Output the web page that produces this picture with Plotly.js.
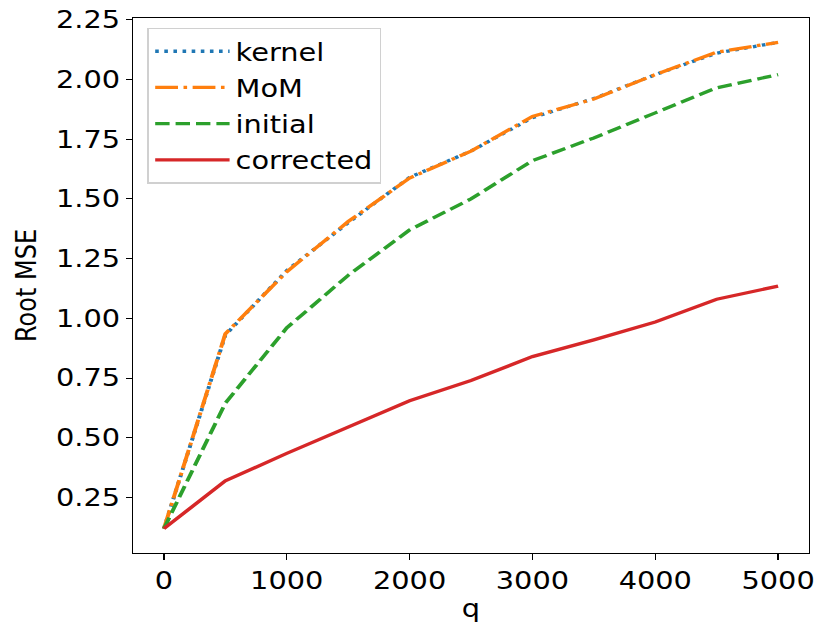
<!DOCTYPE html>
<html>
<head>
<meta charset="utf-8">
<script src="https://cdn.plot.ly/plotly-3.0.1.min.js"></script>
<style>
  body { margin: 0; background: #fff; overflow: hidden; }
  /* the reference figure is stretched sideways, so the plot is drawn narrower and widened */
  #chart { width: 692px; height: 631px; transform: scaleX(1.2); transform-origin: 0 0; }
</style>
</head>
<body>
<div id="chart"></div>
<script>
// q values and root MSE
var q = [0, 500, 1000, 1500, 2000, 2500, 3000, 3500, 4000, 4500, 5000];
var kernel = [0.12, 0.93, 1.20, 1.40, 1.59, 1.70, 1.84, 1.92, 2.02, 2.11, 2.155];
var mom = [0.12, 0.935, 1.195, 1.405, 1.587, 1.70, 1.845, 1.918, 2.02, 2.114, 2.155];
var initial = [0.12, 0.645, 0.96, 1.18, 1.37, 1.50, 1.66, 1.755, 1.86, 1.965, 2.02];
var corrected = [0.12, 0.32, 0.435, 0.545, 0.655, 0.74, 0.84, 0.91, 0.985, 1.08, 1.135];

var yTicks = [0.25, 0.5, 0.75, 1.0, 1.25, 1.5, 1.75, 2.0, 2.25];
var yTickText = ["0.25", "0.50", "0.75", "1.00", "1.25", "1.50", "1.75", "2.00", "2.25"];
var xTicks = [0, 1000, 2000, 3000, 4000, 5000];

function line(name, y, color, dash, group) {
  return {
    x: q, y: y, name: name, type: "scatter", mode: "lines",
    legendgroup: group,
    line: { color: color, width: 3.3, dash: dash }
  };
}

var data = [
  line("kernel", kernel, "#1f77b4", "3px,4.6px", "a"),
  line("MoM", mom, "#ff7f0e", "19px,4.6px,3px,4.6px", "b"),
  line("initial", initial, "#2ca02c", "12px,5px", "c"),
  line("corrected", corrected, "#d62728", "solid", "d")
];

var layout = {
  width: 692, height: 631,
  margin: { l: 111, r: 18, t: 18, b: 78 },
  paper_bgcolor: "#fff", plot_bgcolor: "#fff",
  font: { family: "DejaVu Sans", size: 24, color: "#000" },
  showlegend: true,
  legend: {
    x: 0.021, y: 0.982, xanchor: "left", yanchor: "top",
    bgcolor: "rgba(255,255,255,0.8)", bordercolor: "#d0d0d0", borderwidth: 1.5,
    font: { family: "DejaVu Sans", size: 24 },
    traceorder: "grouped", tracegroupgap: 2, itemwidth: 62
  },
  xaxis: {
    range: [-250, 5250],
    tickvals: xTicks,
    ticks: "outside", ticklen: 6, tickwidth: 1.2, tickcolor: "#000",
    showline: true, linecolor: "#000", linewidth: 1.3, mirror: true,
    showgrid: false, zeroline: false,
    title: { text: "q", font: { size: 24 }, standoff: 6 }
  },
  yaxis: {
    range: [0.018, 2.257],
    tickvals: yTicks, ticktext: yTickText,
    ticks: "outside", ticklen: 5, tickwidth: 1.2, tickcolor: "#000",
    showline: true, linecolor: "#000", linewidth: 1.3, mirror: true,
    showgrid: false, zeroline: false,
    title: { text: "Root MSE", font: { size: 24 }, standoff: 9 }
  }
};

Plotly.newPlot("chart", data, layout, { displayModeBar: false });
</script>
</body>
</html>
